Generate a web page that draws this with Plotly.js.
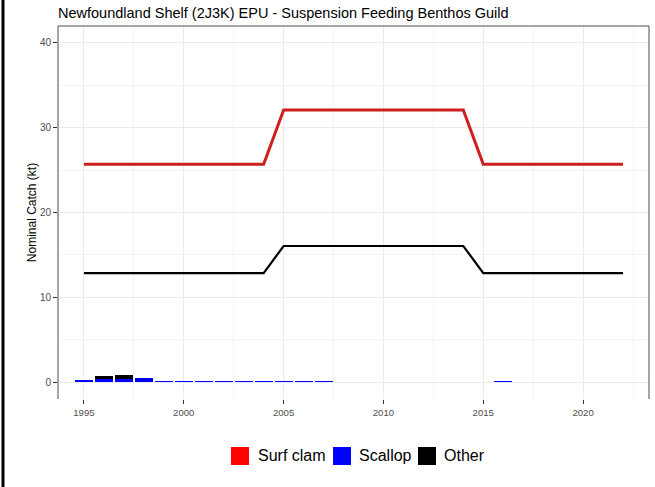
<!DOCTYPE html>
<html>
<head>
<meta charset="utf-8">
<script src="https://cdn.plot.ly/plotly-3.0.1.min.js"></script>
<style>html,body{margin:0;padding:0;background:#fff;}#chart{width:655px;height:487px;}</style>
</head>
<body>
<div id="chart"></div>
<script>
// ---- data ----
const years = [1995,1996,1997,1998,1999,2000,2001,2002,2003,2004,2005,2006,2007,2008,2009,2010,2011,2012,2013,2014,2015,2016,2017,2018,2019,2020,2021,2022];
// TAC-style reference lines
const surfClamLine = [25.7,25.7,25.7,25.7,25.7,25.7,25.7,25.7,25.7,25.7,32.1,32.1,32.1,32.1,32.1,32.1,32.1,32.1,32.1,32.1,25.7,25.7,25.7,25.7,25.7,25.7,25.7,25.7];
const otherLine    = [12.85,12.85,12.85,12.85,12.85,12.85,12.85,12.85,12.85,12.85,16.05,16.05,16.05,16.05,16.05,16.05,16.05,16.05,16.05,16.05,12.85,12.85,12.85,12.85,12.85,12.85,12.85,12.85];
// nominal catch bars (kt)
const scallopCatch = [0.22,0.35,0.4,0.42,0.15,0.08,0.08,0.11,0.13,0.08,0.14,0.08,0.08,0,0,0,0,0,0,0,0,0.08,0,0,0,0,0,0];
const otherCatch   = [0.06,0.31,0.47,0.05,0.02,0.03,0.03,0.02,0.02,0.03,0.02,0.03,0.03,0,0,0,0,0,0,0,0,0.03,0,0,0,0,0,0];
const legendLabels = ["Surf clam","Scallop","Other"];
const legendColors = ["#FF0000","#0000FF","#000000"];
const xTicks = [1995,2000,2005,2010,2015,2020];
const yTicks = [0,10,20,30,40];

const FONT = "Arial, 'Liberation Sans', sans-serif";

const traces = [
  {type:'bar', name:'Scallop', x:years, y:scallopCatch, width:0.9, marker:{color:'#0000FF'}, showlegend:false, hoverinfo:'skip'},
  {type:'bar', name:'Other', x:years, y:otherCatch, width:0.9, marker:{color:'#000000'}, showlegend:false, hoverinfo:'skip'},
  {type:'scatter', mode:'lines', name:'Surf clam line', x:years, y:surfClamLine, line:{color:'#CD1F1F', width:3}, showlegend:false},
  {type:'scatter', mode:'lines', name:'Other line', x:years, y:otherLine, line:{color:'#000000', width:2.2}, showlegend:false}
];

// panel geometry in px (for manual legend placement)
const W = 655, H = 487, L = 58, R = 6, T = 26, B = 88;
const pw = W - L - R, ph = H - T - B;
const px2x = p => (p - L) / pw;
const py2y = p => (H - B - p) / ph;

const shapes = [
  // panel border (left, top, right)
  {type:'path', xref:'paper', yref:'paper', path:'M0,0 L0,1 L1,1 L1,0', line:{color:'#4D4D4D', width:1}, layer:'above'},
  // outer frame left edge
  {type:'line', xref:'paper', yref:'paper', x0:px2x(3), x1:px2x(3), y0:py2y(0), y1:py2y(487), line:{color:'#000', width:3}}
];
const annotations = [];
const sqX = [231, 333, 418];
const txX = [256, 357, 442];
for (let i = 0; i < legendLabels.length; i++) {
  shapes.push({type:'rect', xref:'paper', yref:'paper', x0:px2x(sqX[i]), x1:px2x(sqX[i]+18), y0:py2y(465), y1:py2y(447), fillcolor:legendColors[i], line:{width:0}});
  annotations.push({xref:'paper', yref:'paper', x:px2x(txX[i]), y:py2y(456), xanchor:'left', yanchor:'middle', text:legendLabels[i], showarrow:false, font:{family:FONT, size:16, color:'#000'}});
}

const layout = {
  width:W, height:H,
  margin:{l:L, r:R, t:T, b:B, pad:0},
  paper_bgcolor:'#fff', plot_bgcolor:'#fff',
  font:{family:FONT, color:'#000'},
  barmode:'stack',
  showlegend:false,
  title:{text:'Newfoundland Shelf (2J3K) EPU - Suspension Feeding Benthos Guild', x:0, xref:'paper', xanchor:'left', y:1-13/H, yref:'container', yanchor:'middle', font:{family:FONT, size:14.5, color:'#000'}},
  xaxis:{range:[1993.70, 2023.30], tickvals:xTicks, ticktext:xTicks.map(String), ticks:'outside', ticklen:4, tickcolor:'#333', tickwidth:1,
         tickfont:{size:9.6, color:'#4D4D4D'}, showgrid:true, gridcolor:'#EBEBEB', gridwidth:1, zeroline:false, showline:false,
         minor:{dtick:2.5, tick0:1995, showgrid:true, gridcolor:'#F0F0F0', gridwidth:0.7}},
  yaxis:{range:[-2,42], tickvals:yTicks, ticks:'outside', ticklen:4, tickcolor:'#333', tickwidth:1,
         tickfont:{size:10, color:'#4D4D4D'}, showgrid:true, gridcolor:'#EBEBEB', gridwidth:1, zeroline:false, showline:false,
         minor:{dtick:5, tick0:0, showgrid:true, gridcolor:'#F0F0F0', gridwidth:0.7},
         title:{text:'Nominal Catch (kt)', standoff:0, font:{family:FONT, size:12, color:'#000'}}},
  shapes:shapes,
  annotations:annotations
};

Plotly.newPlot('chart', traces, layout, {displayModeBar:false, staticPlot:true});
</script>
</body>
</html>
